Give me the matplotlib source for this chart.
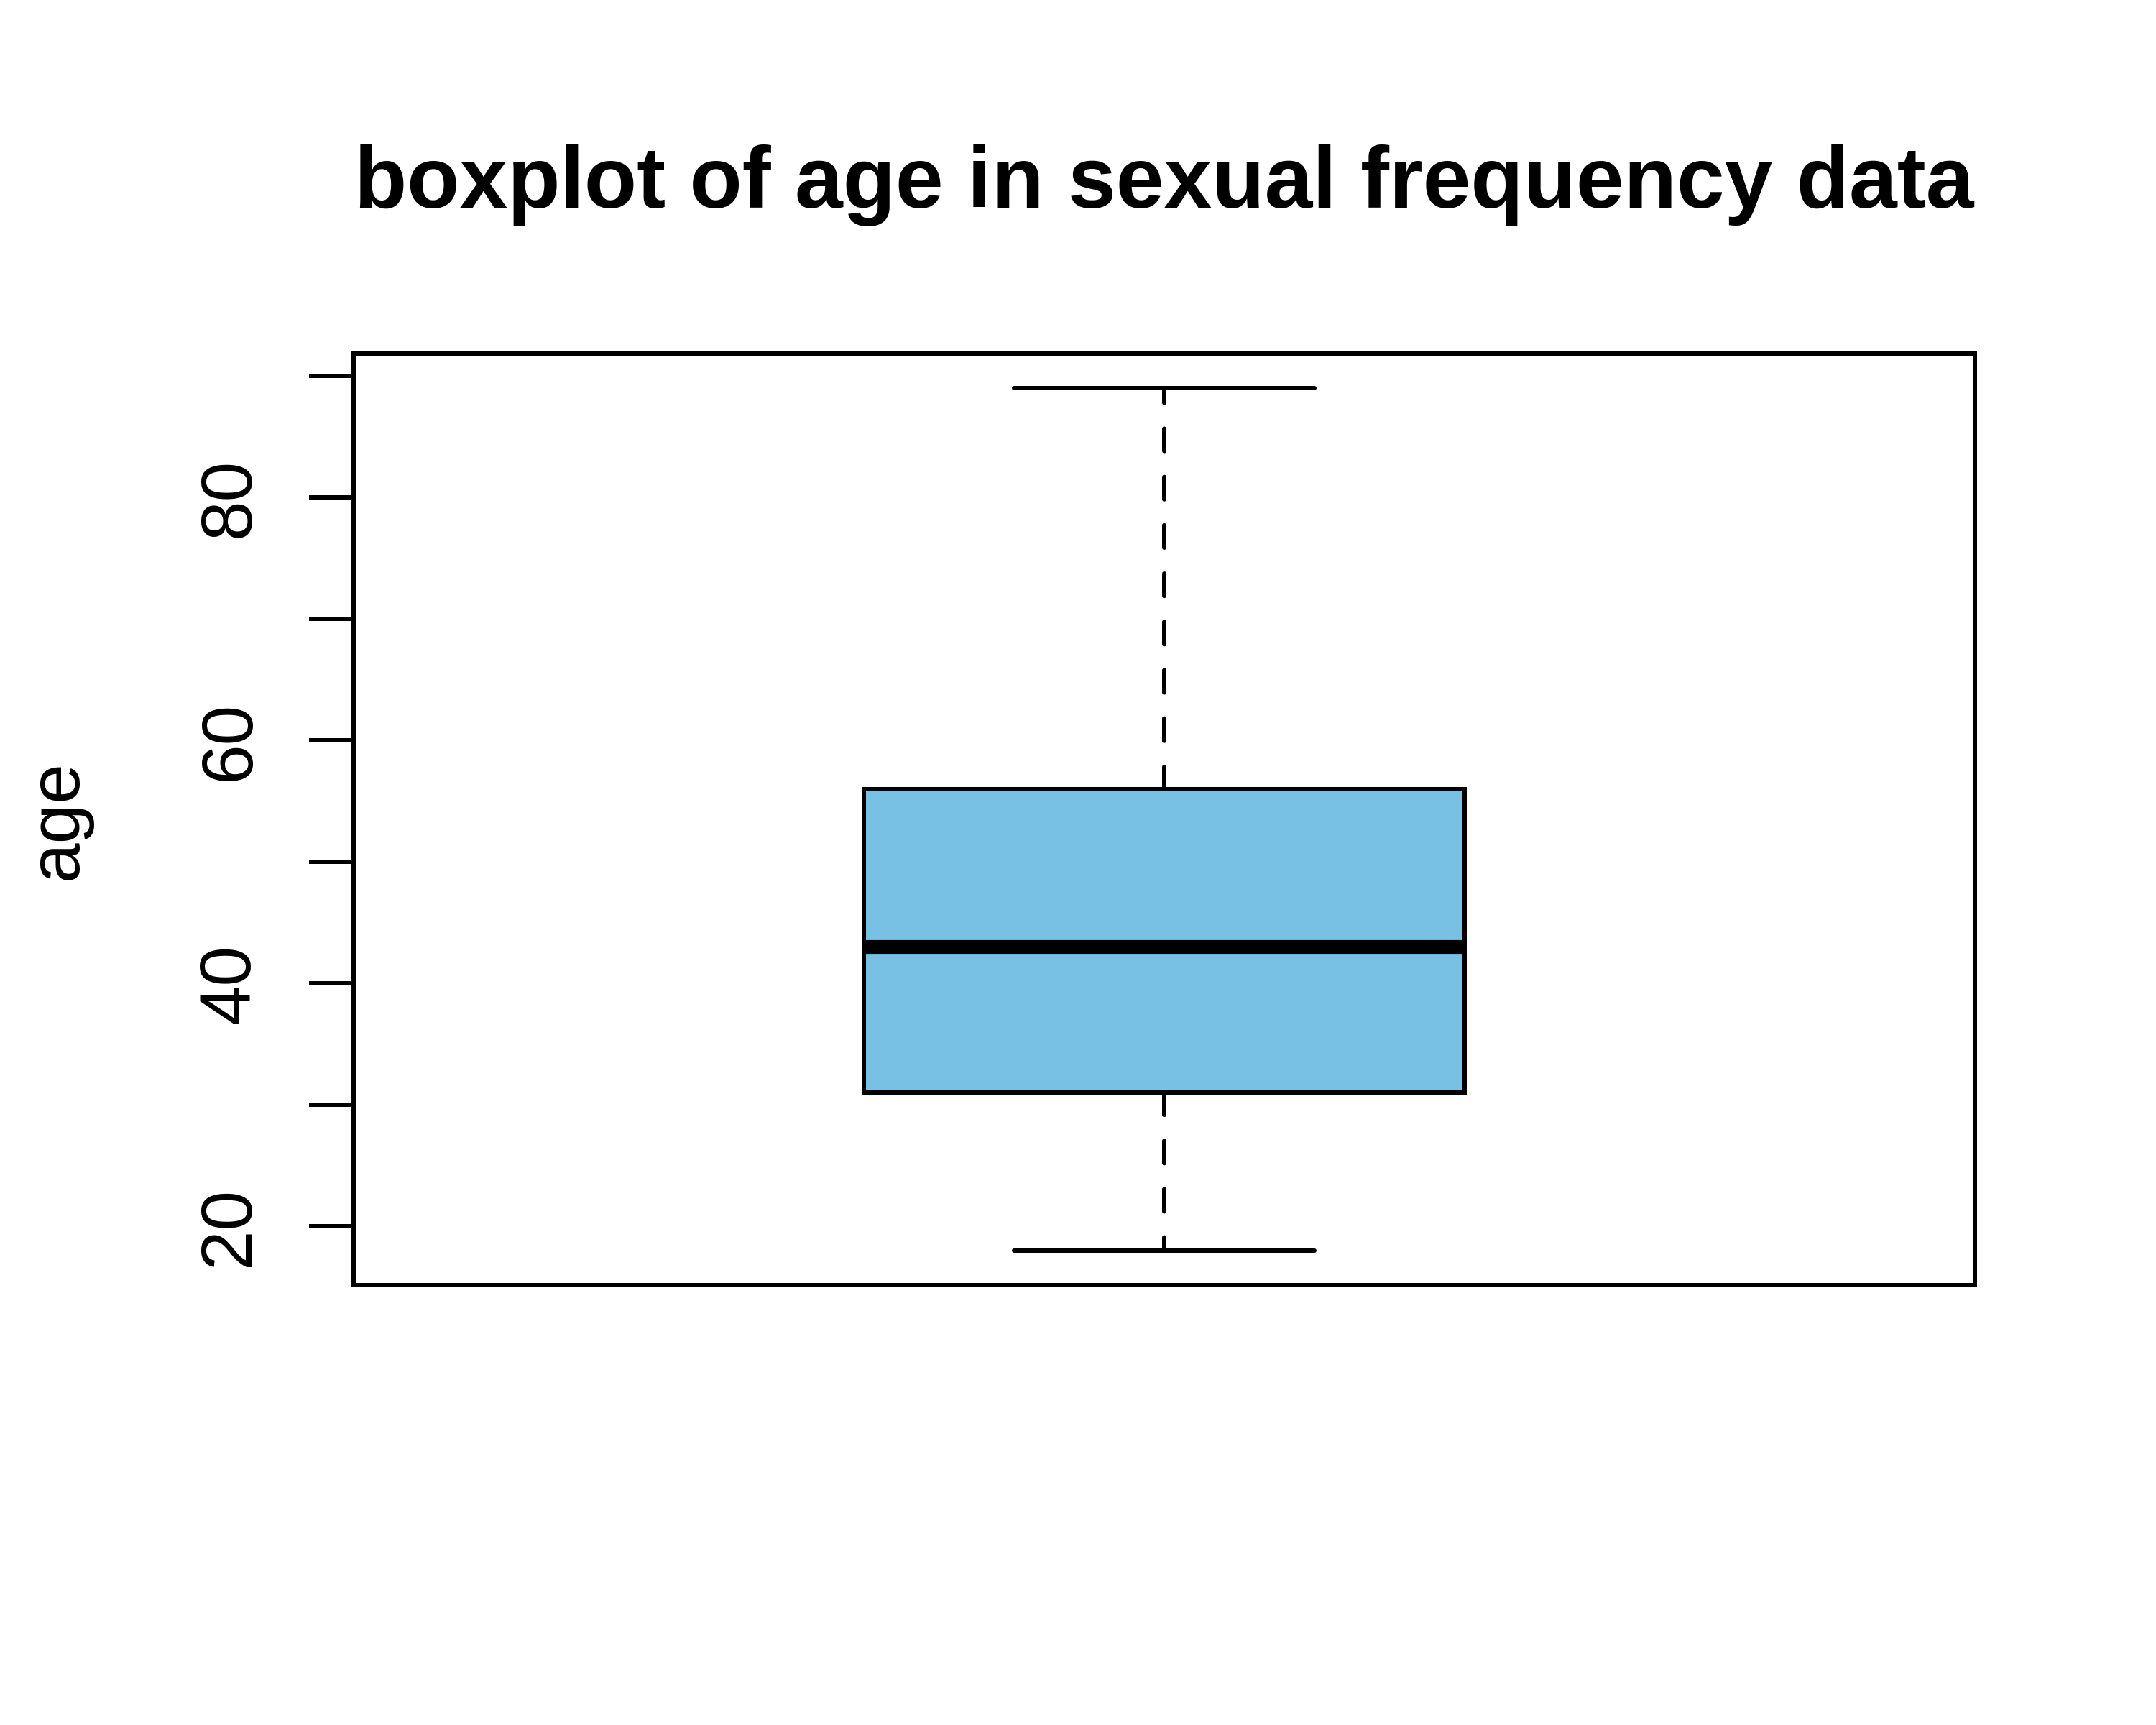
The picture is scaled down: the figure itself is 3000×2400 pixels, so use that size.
import matplotlib
matplotlib.use("Agg")
import matplotlib.pyplot as plt
from matplotlib.ticker import FixedLocator

plt.rcParams['font.family'] = ['Liberation Sans', 'DejaVu Sans']

# five-number summary of age
label = "age"
whislo = 18
q1 = 31
med = 43
q3 = 56
whishi = 89

major_ticks = [20, 40, 60, 80]
minor_ticks = [30, 50, 70, 90]

box_color = '#78C1E5'
lw = 1.44

fig = plt.figure(figsize=(10, 8), dpi=300)
ax = fig.add_axes([492 / 3000, 1 - 1788 / 2400, (2748 - 492) / 3000, (1788 - 492) / 2400])

stats = [dict(label=label, whislo=whislo, q1=q1, med=med, q3=q3, whishi=whishi, fliers=[])]
ax.bxp(stats, positions=[1], widths=0.4, capwidths=0.2, patch_artist=True,
       boxprops=dict(facecolor=box_color, edgecolor='black', linewidth=lw),
       medianprops=dict(color='black', linewidth=4.6, solid_capstyle='butt'),
       whiskerprops=dict(color='black', linewidth=lw, linestyle=(0, (5.2, 6.0)),
                         dash_capstyle='round'),
       capprops=dict(color='black', linewidth=lw, solid_capstyle='round'),
       showfliers=False)

ax.set_xlim(0.46, 1.54)
ax.set_ylim(15.16, 91.84)
ax.set_xticks([])
ax.yaxis.set_major_locator(FixedLocator(major_ticks))
ax.yaxis.set_minor_locator(FixedLocator(minor_ticks))
ax.tick_params(axis='y', which='both', length=14.9, width=lw, direction='out')
ax.tick_params(axis='y', which='major', labelsize=24, pad=15)
for t in ax.get_yticklabels():
    t.set_rotation(90)
    t.set_va('center')
for s in ax.spines.values():
    s.set_linewidth(lw)

fig.text(0.0268, 1 - 1141 / 2400, "age", rotation=90, ha='center', va='center', fontsize=24)
fig.text(1620 / 3000, 1 - 289 / 2400, "boxplot of age in sexual frequency data",
         ha='center', va='baseline', fontsize=28.8, fontweight='bold')

fig.savefig("out.png", dpi=300)
